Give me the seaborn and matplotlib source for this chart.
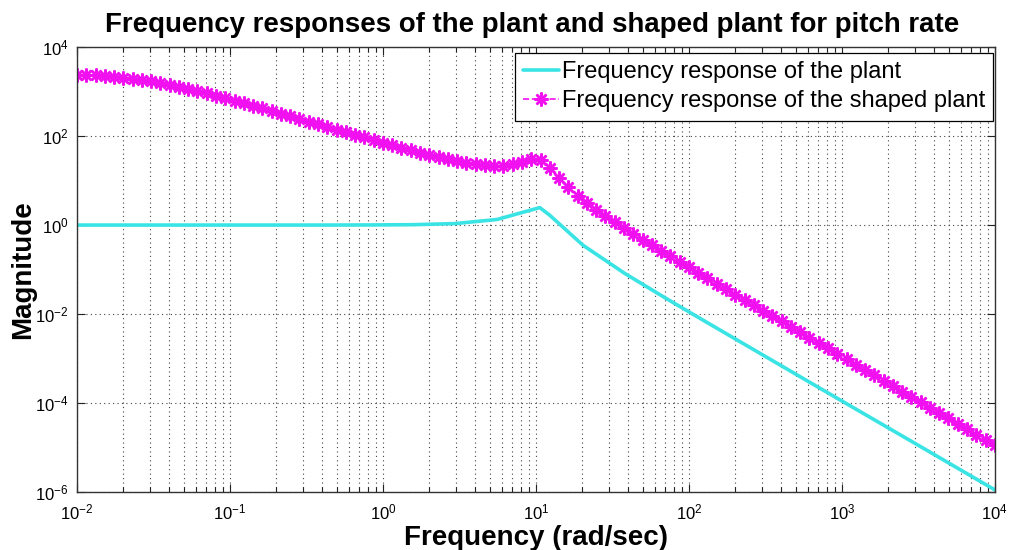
import numpy as np
import matplotlib
matplotlib.use("Agg")
import matplotlib.pyplot as plt
import seaborn as sns
from matplotlib.ticker import LogLocator, FixedLocator, NullLocator, LogFormatterMathtext, NullFormatter

# Plant frequency response (rad/sec, magnitude)
plant_freq = [0.01, 0.0188, 0.0354, 0.0666, 0.125, 0.236, 0.444, 0.835, 1.57, 2.95,
              5.56, 10.6, 12.3, 20.3, 38, 71, 133, 250, 470, 880, 1650, 3100, 5800, 10000]
plant_mag = [1.0, 1.0, 1.0, 1.0, 1.0, 1.0, 1.0, 1.006, 1.02, 1.078,
             1.334, 2.47, 1.67, 0.352, 0.082, 0.0223, 0.00627, 0.00177, 4.99e-4, 1.42e-4,
             4.05e-5, 1.15e-5, 3.28e-6, 1.10e-6]

# Shaped plant: 100 log-spaced frequencies from 1e-2 to 1e4 rad/sec, log10 magnitude
shaped_freq = np.logspace(-2, 4, 100)
shaped_log10_mag = [
    3.386, 3.377, 3.367, 3.354, 3.338, 3.318, 3.295, 3.267, 3.235, 3.199,
    3.159, 3.115, 3.068, 3.019, 2.967, 2.913, 2.858, 2.801, 2.744, 2.686,
    2.627, 2.568, 2.508, 2.448, 2.389, 2.330, 2.269, 2.209, 2.148, 2.089,
    2.031, 1.971, 1.911, 1.853, 1.795, 1.738, 1.682, 1.627, 1.574, 1.523,
    1.476, 1.433, 1.396, 1.364, 1.341, 1.332, 1.337, 1.363, 1.415, 1.481,
    1.464, 1.279, 1.052, 0.849, 0.665, 0.502, 0.348, 0.201, 0.065, -0.071,
    -0.200, -0.330, -0.458, -0.583, -0.707, -0.828, -0.953, -1.075, -1.197, -1.319,
    -1.440, -1.564, -1.685, -1.806, -1.927, -2.049, -2.170, -2.291, -2.412, -2.534,
    -2.655, -2.776, -2.897, -3.018, -3.140, -3.261, -3.382, -3.503, -3.625, -3.746,
    -3.867, -3.988, -4.109, -4.231, -4.352, -4.473, -4.594, -4.716, -4.837, -4.958,
]
shaped_mag = 10.0 ** np.array(shaped_log10_mag)

x_ticks = [1e-2, 1e-1, 1e0, 1e1, 1e2, 1e3, 1e4]
y_ticks = [1e-6, 1e-4, 1e-2, 1e0, 1e2, 1e4]

sns.set_theme(style="white")
plt.rcParams["font.family"] = ["Liberation Sans", "DejaVu Sans"]
plt.rcParams["mathtext.fontset"] = "custom"
plt.rcParams["mathtext.rm"] = "Liberation Sans"
plt.rcParams["mathtext.default"] = "regular"
plt.rcParams["text.color"] = "black"
plt.rcParams["axes.labelcolor"] = "black"
plt.rcParams["axes.titlecolor"] = "black"

fig = plt.figure(figsize=(10.1, 5.5), dpi=100)
ax = fig.add_axes([0.0762, 0.106, 0.9088, 0.808])

cyan = "#3ae4e4"
magenta = "#f010f0"

sns.lineplot(x=plant_freq, y=plant_mag, ax=ax, color=cyan, linewidth=2.6,
             label="Frequency response of the plant")
sns.lineplot(x=shaped_freq, y=shaped_mag, ax=ax, color=magenta, linewidth=1.2,
             linestyle="--", marker=(8, 2, 0), markersize=10, markeredgewidth=1.8,
             markeredgecolor=magenta, label="Frequency response of the shaped plant")

ax.set_xscale("log")
ax.set_yscale("log")
ax.set_xlim(1e-2, 1e4)
ax.set_ylim(1e-6, 1e4)

ax.xaxis.set_major_locator(FixedLocator(x_ticks))
ax.xaxis.set_minor_locator(LogLocator(base=10, subs=np.arange(2, 10), numticks=100))
ax.xaxis.set_major_formatter(LogFormatterMathtext())
ax.xaxis.set_minor_formatter(NullFormatter())
ax.yaxis.set_major_locator(FixedLocator(y_ticks))
ax.yaxis.set_minor_locator(NullLocator())
ax.yaxis.set_major_formatter(LogFormatterMathtext())

grid_style = dict(linestyle=(0, (1, 3)), color="#444444", linewidth=0.8)
ax.grid(which="major", axis="both", **grid_style)
ax.grid(which="minor", axis="x", **grid_style)

ax.tick_params(which="both", direction="in", top=True, right=True, bottom=True, left=True,
               colors="#222222", labelcolor="black")
ax.tick_params(which="major", length=6, width=0.8, labelsize=12)
ax.tick_params(which="minor", length=3.5, width=0.8)
ax.tick_params(axis="x", pad=8)
ax.tick_params(axis="y", pad=6)
for s in ax.spines.values():
    s.set_color("#333333")
    s.set_linewidth(1.0)

ax.set_title("Frequency responses of the plant and shaped plant for pitch rate",
             fontsize=19.9, fontweight="bold", pad=11, x=0.496, color="black")
ax.set_xlabel("Frequency (rad/sec)", fontsize=20, fontweight="bold", labelpad=2, color="black")
ax.set_ylabel("Magnitude", fontsize=20, fontweight="bold", color="black")
ax.yaxis.set_label_coords(-0.044, 0.5)

leg = ax.legend(loc="upper right", bbox_to_anchor=(0.998, 0.987), borderaxespad=0,
                fontsize=17, handlelength=1.5, handletextpad=0.12, labelspacing=0.3,
                borderpad=0.35, fancybox=False, framealpha=1, edgecolor="black",
                labelcolor="black")
leg.get_frame().set_linewidth(0.9)

fig.savefig("out.png", dpi=100)
